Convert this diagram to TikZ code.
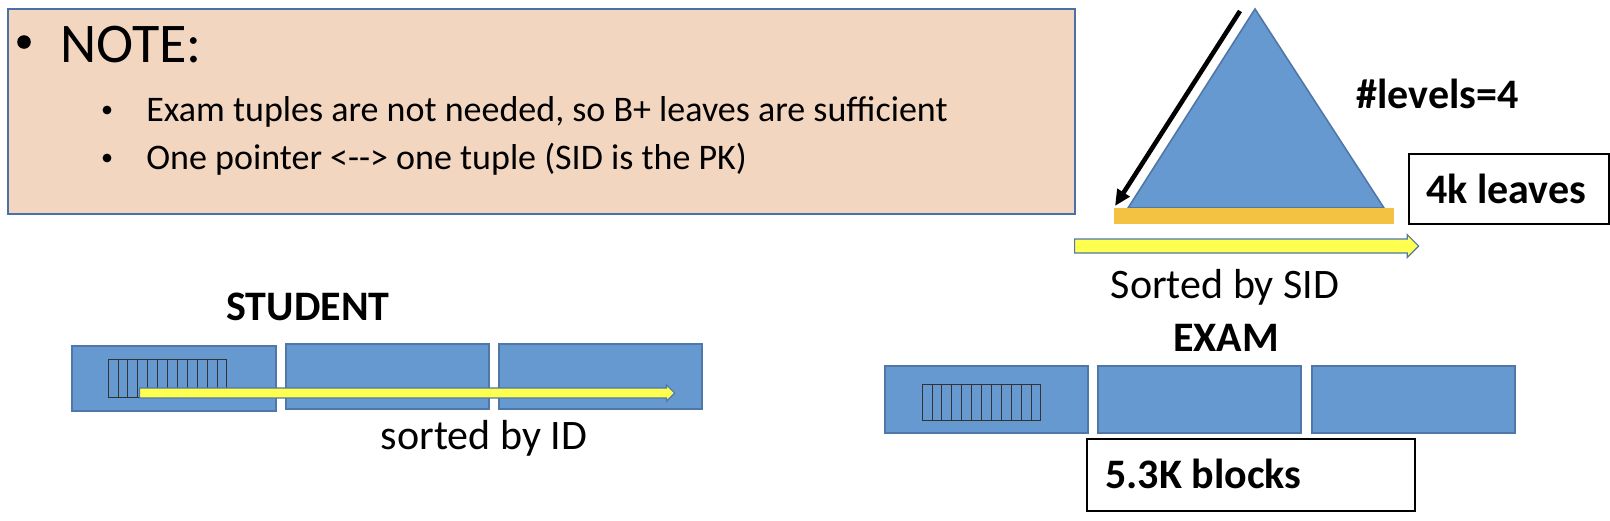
\documentclass[tikz,border=0pt]{standalone}
\usepackage{fontspec}
\setmainfont{Carlito}
\usepackage{tikz}
\usetikzlibrary{positioning,%
  arrows.meta,%
  shapes.arrows
}

\definecolor{notefill}{HTML}{F3D6C0}
\definecolor{noteline}{HTML}{4A70A8}
\definecolor{blockfill}{HTML}{6699CF}
\definecolor{blockline}{HTML}{4F77A8}
\definecolor{leafbar}{HTML}{F4C242}
\definecolor{arrowfill}{HTML}{FFFF4F}

\begin{document}
\begin{tikzpicture}[x=0.5pt,y=-0.5pt,
    block/.style={draw=blockline,fill=blockfill,line width=0.8pt},
    tuple/.style={draw=black!80,line width=0.35pt},
    yarrow/.style={single arrow,draw=blockline,fill=arrowfill,line width=0.6pt,
      inner xsep=0pt,text height=0pt,text depth=0pt,single arrow head indent=0pt,anchor=west},
    lbl/.style={inner sep=0pt,anchor=base,font=\fontsize{21}{25}\selectfont},
    blbl/.style={lbl,font=\fontsize{21}{25}\selectfont\bfseries},
    infobox/.style={draw=black,fill=white,line width=0.8pt}]
  \useasboundingbox (0,0) rectangle (1610,520);

  % note
  \draw [draw=noteline,fill=notefill,line width=0.8pt] (8,9) rectangle (1075,214);
  \fill (24,42) circle [radius=3.4pt];
  \node [lbl,anchor=base west,font=\fontsize{28}{33}\selectfont] (note) at (60,62) {NOTE:};
  \foreach \y/\txt [count=\i] in {121/{Exam tuples are not needed, so B+ leaves are sufficient},
                                  169/{One pointer <-\kern0pt-> one tuple (SID is the PK)}} {
    \fill (107,\y-11) circle [radius=2.2pt];
    \node [lbl,anchor=base west,font=\fontsize{18}{21}\selectfont] (item\i) at (146,\y) {\txt};
  }

  % B+ tree
  \coordinate (apex) at (1255,9);
  \coordinate (bl) at (1128,208);
  \coordinate (br) at (1384,208);
  \draw [block] (apex) -- (bl) -- (br) -- cycle;
  \fill [leafbar] (1114,208) rectangle (1394,224);
  \coordinate (down start) at (1240,11);
  \coordinate (down end) at (1115,206);
  \draw [line width=2.3pt,-{Triangle[length=8pt,width=7pt]}] (down start) -- (down end);
  \node [blbl,anchor=base west] (levels) at (1356,108) {\#levels=4};
  \draw [infobox] (1409,154) rectangle (1609,224);
  \node [blbl,anchor=west] (leaves) at (1426,189) {4k leaves};
  \node [yarrow,inner ysep=3.2pt,single arrow head extend=2.2pt,minimum height=172pt]
    (sidarrow) at (1074,246) {};
  \node [lbl] (sidlabel) at (1225,298) {Sorted by SID};

  % STUDENT
  \node [blbl] (student) at (308,320) {STUDENT};
  \draw [block] (72,346) rectangle (276,411);
  \draw [block] (286,344) rectangle (489,409);
  \draw [block] (499,344) rectangle (702,409);
  \foreach \i in {0,...,11}
    \draw [tuple] (108+\i*9.9,359) rectangle ++(9.9,38);
  \node [yarrow,inner ysep=2.2pt,single arrow head extend=1.6pt,minimum height=267.5pt]
    (idarrow) at (139,393) {};
  \node [lbl] (idlabel) at (484,449) {sorted by ID};

  % EXAM
  \node [blbl] (exam) at (1226,351) {EXAM};
  \draw [block] (885,366) rectangle (1088,433);
  \draw [block] (1098,366) rectangle (1301,433);
  \draw [block] (1312,366) rectangle (1515,433);
  \foreach \i in {0,...,11}
    \draw [tuple] (922+\i*9.9,384) rectangle ++(9.9,36);
  \draw [infobox] (1087,439) rectangle (1415,511);
  \node [blbl,anchor=base west] (blocks) at (1105,488) {5.3K blocks};
\end{tikzpicture}
\end{document}
